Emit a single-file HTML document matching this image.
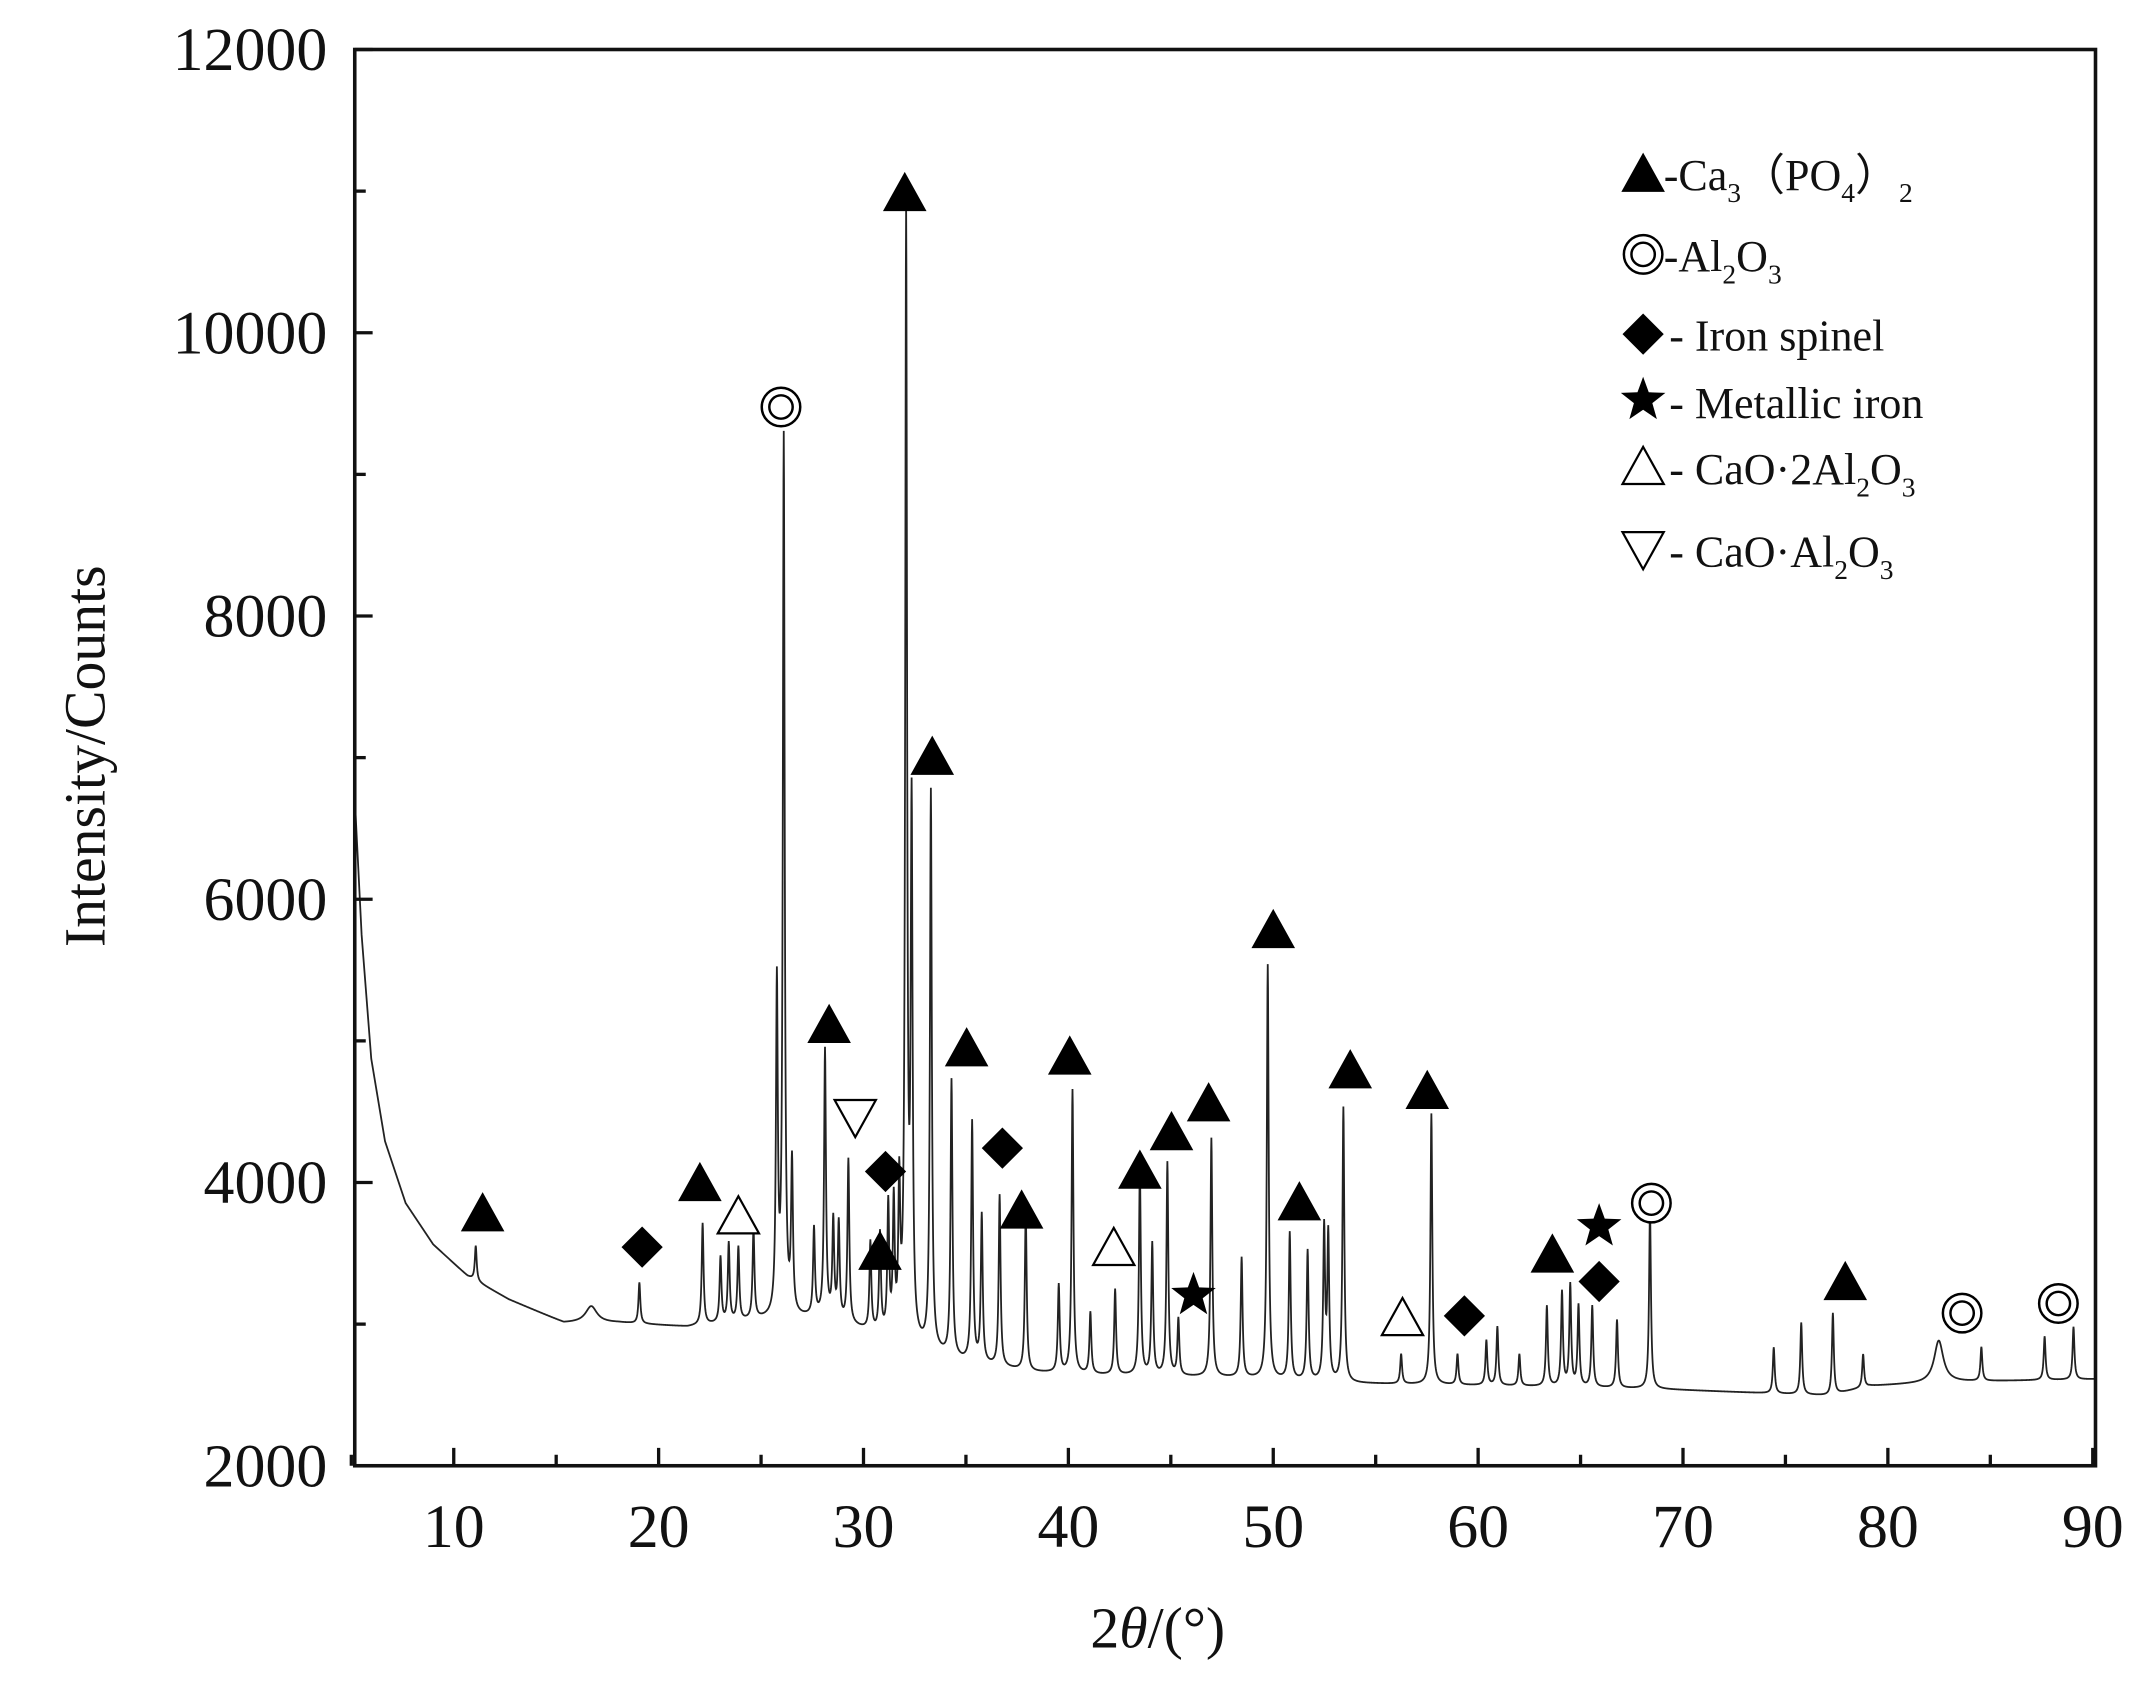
<!DOCTYPE html>
<html><head><meta charset="utf-8"><style>html,body{margin:0;padding:0;background:#fff}svg{display:block}</style></head>
<body>
<svg id="s" width="2145" height="1682" viewBox="0 0 1560 1223.27" xmlns="http://www.w3.org/2000/svg" font-family="Liberation Serif, serif">
<rect width="1560" height="1224" fill="#fff"/>
<path id="curve" d="M0 0" fill="none" stroke="#222" stroke-width="1.3"/>
<rect x="258" y="36" width="1266" height="1030" fill="none" stroke="#111" stroke-width="2.6"/>
<g id="ticks" stroke="#111" stroke-width="2.4"></g>
<g font-size="45" fill="#111" text-anchor="end">
<text x="238" y="51">12000</text><text x="238" y="257">10000</text><text x="238" y="463">8000</text><text x="238" y="669">6000</text><text x="238" y="875">4000</text><text x="238" y="1081">2000</text>
</g>
<g font-size="45" fill="#111" text-anchor="middle">
<text x="330" y="1125">10</text><text x="479" y="1125">20</text><text x="628" y="1125">30</text><text x="777" y="1125">40</text><text x="926" y="1125">50</text><text x="1075" y="1125">60</text><text x="1224" y="1125">70</text><text x="1373" y="1125">80</text><text x="1522" y="1125">90</text>
</g>
<text x="842" y="1198" font-size="42" text-anchor="middle" fill="#111">2<tspan font-style="italic">θ</tspan>/(°)</text>
<text transform="translate(76,550) rotate(-90)" font-size="42" text-anchor="middle" fill="#111">Intensity/Counts</text>
<g id="marks"></g>
<g font-size="32" fill="#111">
<text x="1210" y="138">-Ca<tspan font-size="20" dy="9">3</tspan><tspan dy="-9">（PO</tspan><tspan font-size="20" dy="9">4</tspan><tspan dy="-9">）</tspan><tspan font-size="20" dy="9">2</tspan></text>
<text x="1210" y="197">-Al<tspan font-size="20" dy="9">2</tspan><tspan dy="-9">O</tspan><tspan font-size="20" dy="9">3</tspan></text>
<text x="1214" y="255">- Iron spinel</text>
<text x="1214" y="304">- Metallic iron</text>
<text x="1214" y="352">- CaO·2Al<tspan font-size="20" dy="9">2</tspan><tspan dy="-9">O</tspan><tspan font-size="20" dy="9">3</tspan></text>
<text x="1214" y="412">- CaO·Al<tspan font-size="20" dy="9">2</tspan><tspan dy="-9">O</tspan><tspan font-size="20" dy="9">3</tspan></text>
</g>
</svg>
<script>
(function(){
var NS="http://www.w3.org/2000/svg";
function el(parent,tag,attrs){var e=document.createElementNS(NS,tag);for(var k in attrs){e.setAttribute(k,attrs[k]);}parent.appendChild(e);return e;}
var bg=[[258,580],[263,680],[270,770],[280,830],[295,875],[315,905],[340,928],[370,945],[410,962],[450,962],[500,965],[550,960],[600,958],[650,975],[700,990],[750,998],[800,1000],[900,1002],[980,1006],[1100,1008],[1200,1010],[1330,1015],[1360,1008],[1420,1005],[1524,1003]];
function B(x){for(var i=0;i<bg.length-1;i++){if(x<=bg[i+1][0]){var a=bg[i],b=bg[i+1];return a[1]+(b[1]-a[1])*(x-a[0])/(b[0]-a[0]);}}return bg[bg.length-1][1];}
var pk=[[346,906],[430,950,5],[465,933],[511,890],[524,915],[530,905],[537,908],[548,895],[565,720],[570,322],[576,850],[592,895],[600,765],[606,890],[610,892],[617,845],[633,905],[640,900],[646,880],[650,880],[654,870],[659,168],[663,600],[677,577],[692,787],[707,817],[714,885],[727,870],[746,882],[770,935],[780,793],[793,955],[811,938],[829,850],[838,905],[849,846],[857,960],[881,828],[903,915],[922,702],[938,897],[951,910],[963,895],[966,900],[977,806],[1019,985],[1041,810],[1060,985],[1081,975],[1089,965],[1105,985],[1125,950],[1136,940],[1142,935],[1148,950],[1158,950],[1176,960],[1200,880],[1290,980],[1310,962],[1333,955],[1355,985],[1410,975,4],[1441,980],[1487,972],[1508,965]];
var pre=pk.map(function(p){return [p[0],B(p[0])-p[1],p[2]||0.8];});
var parts=[];
for(var x=258;x<=1524;x+=0.2){var y=B(x);for(var j=0;j<pre.length;j++){var t=(x-pre[j][0])/pre[j][2];y-=pre[j][1]/(1+t*t);}parts.push((parts.length?"L":"M")+x.toFixed(2)+" "+y.toFixed(2));}
document.getElementById("curve").setAttribute("d",parts.join(""));
var tk=document.getElementById("ticks");
for(var g=5;g<=90;g+=5){var px=255.5+14.9*(g-5);var L=(g%10==0)?13:8;el(tk,"line",{x1:px,y1:1066,x2:px,y2:1066-L});}
for(var v=2000;v<=12000;v+=1000){var py=1066-(v-2000)*0.103;var L2=(v%2000==0)?13:8;el(tk,"line",{x1:258,y1:py,x2:258+L2,y2:py});}
var M=document.getElementById("marks");
function tri(x,y,f){el(M,"polygon",{points:(x-15)+","+(y+13)+" "+(x+15)+","+(y+13)+" "+x+","+(y-14),fill:f?"#000":"#fff",stroke:"#000","stroke-width":f?1:1.6});}
function dtri(x,y){el(M,"polygon",{points:(x-15)+","+(y-13)+" "+(x+15)+","+(y-13)+" "+x+","+(y+14),fill:"#fff",stroke:"#000","stroke-width":1.6});}
function circ(x,y){el(M,"circle",{cx:x,cy:y,r:14,fill:"#fff",stroke:"#000","stroke-width":1.8});el(M,"circle",{cx:x,cy:y,r:8.5,fill:"none",stroke:"#000","stroke-width":1.8});}
function dia(x,y){el(M,"polygon",{points:(x-15)+","+y+" "+x+","+(y-15)+" "+(x+15)+","+y+" "+x+","+(y+15),fill:"#000"});}
function star(x,y){var p=[];for(var i=0;i<10;i++){var r=i%2?7:17,a=-Math.PI/2+i*Math.PI/5;p.push((x+r*Math.cos(a)).toFixed(1)+","+(y+r*Math.sin(a)).toFixed(1));}el(M,"polygon",{points:p.join(" "),fill:"#000"});}
[[351,882],[509,860],[603,745],[640,910],[658,140],[678,550],[703,762],[778,768],[743,880],[829,851],[852,823],[879,802],[926,676],[945,874],[982,778],[1038,793],[1129,912],[1342,932]].forEach(function(p){tri(p[0],p[1],1);});
[[537,884],[810,907],[1020,958]].forEach(function(p){tri(p[0],p[1],0);});
dtri(622,813);
[[568,296],[1201,875],[1427,955],[1497,948]].forEach(function(p){circ(p[0],p[1]);});
[[467,907],[644,852],[729,835],[1065,957],[1163,932]].forEach(function(p){dia(p[0],p[1]);});
star(868,942);star(1163,892);
tri(1195,126,1);circ(1195,185);dia(1195,243);star(1195,291);tri(1195,339,0);dtri(1195,400);
})();
</script>
</body></html>
